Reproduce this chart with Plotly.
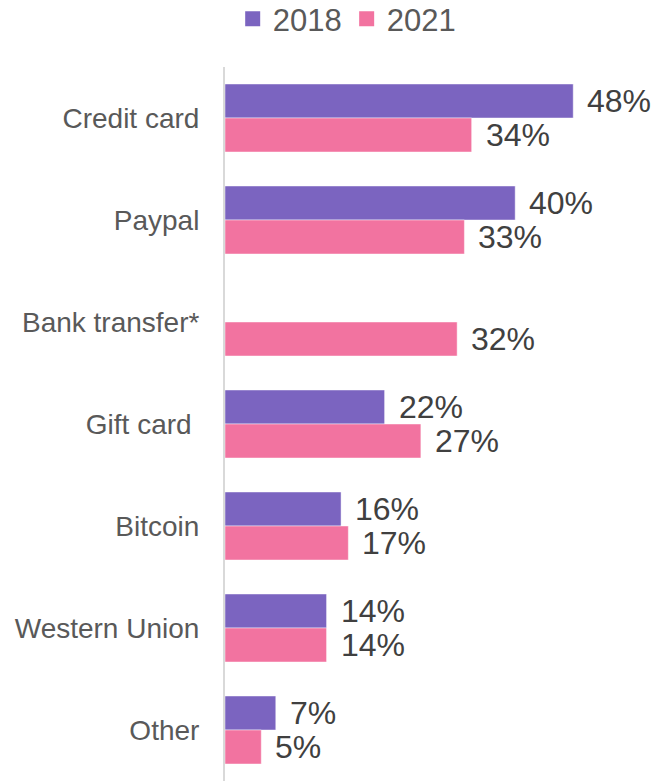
import plotly.graph_objects as go

categories = ["Credit card", "Paypal", "Bank transfer*", "Gift card\u00a0", "Bitcoin", "Western Union", "Other"]
values_2018 = [48, 40, None, 22, 16, 14, 7]
values_2021 = [34, 33, 32, 27, 17, 14, 5]
series_names = ["2018", "2021"]
colors = ["#7B64C0", "#F273A0"]

fig = go.Figure()
for name, vals, col in zip(series_names, [values_2018, values_2021], colors):
    fig.add_trace(go.Bar(
        y=categories, x=vals, name=name, orientation="h", showlegend=False,
        marker=dict(color=col, line=dict(color="rgba(255,255,255,0.45)", width=1)),
        hoverinfo="skip",
    ))
# legend entries with larger square swatches
for name, col in zip(series_names, colors):
    fig.add_trace(go.Scatter(
        x=[None], y=[None], mode="markers", name=name,
        marker=dict(symbol="square", size=15, color=col), hoverinfo="skip",
    ))

annotations = []
for vals, shift in [(values_2018, 17), (values_2021, -17)]:
    for cat, v in zip(categories, vals):
        if v is None:
            continue
        annotations.append(dict(
            x=v, y=cat, xref="x", yref="y", text=f"{v}%", showarrow=False,
            xanchor="left", yanchor="middle", xshift=12, yshift=shift,
            font=dict(family="Liberation Sans, Arial, sans-serif", size=32, color="#404040"),
        ))

fig.update_layout(
    width=653, height=781,
    margin=dict(l=225, r=29, t=67, b=0, autoexpand=False),
    paper_bgcolor="white", plot_bgcolor="white",
    barmode="group", bargap=1/3, bargroupgap=0,
    font=dict(family="Liberation Sans, Arial, sans-serif", color="#595959"),
    showlegend=True,
    legend=dict(orientation="h", x=0.305, xanchor="center", y=1.105, yanchor="top",
                font=dict(size=31, color="#595959"), traceorder="normal",
                itemwidth=30),
    annotations=annotations,
)
fig.update_xaxes(range=[0, 55], visible=False, fixedrange=True)
fig.update_yaxes(autorange="reversed", showline=True, linecolor="#D9D9D9", linewidth=2,
                 showgrid=False, ticks="", ticklabelstandoff=18, automargin=False,
                 tickfont=dict(size=28, color="#595959"), fixedrange=True)

fig.write_html("out.html", config={"displayModeBar": False},
               post_script="document.body.style.margin='0';document.body.style.overflow='hidden';")
